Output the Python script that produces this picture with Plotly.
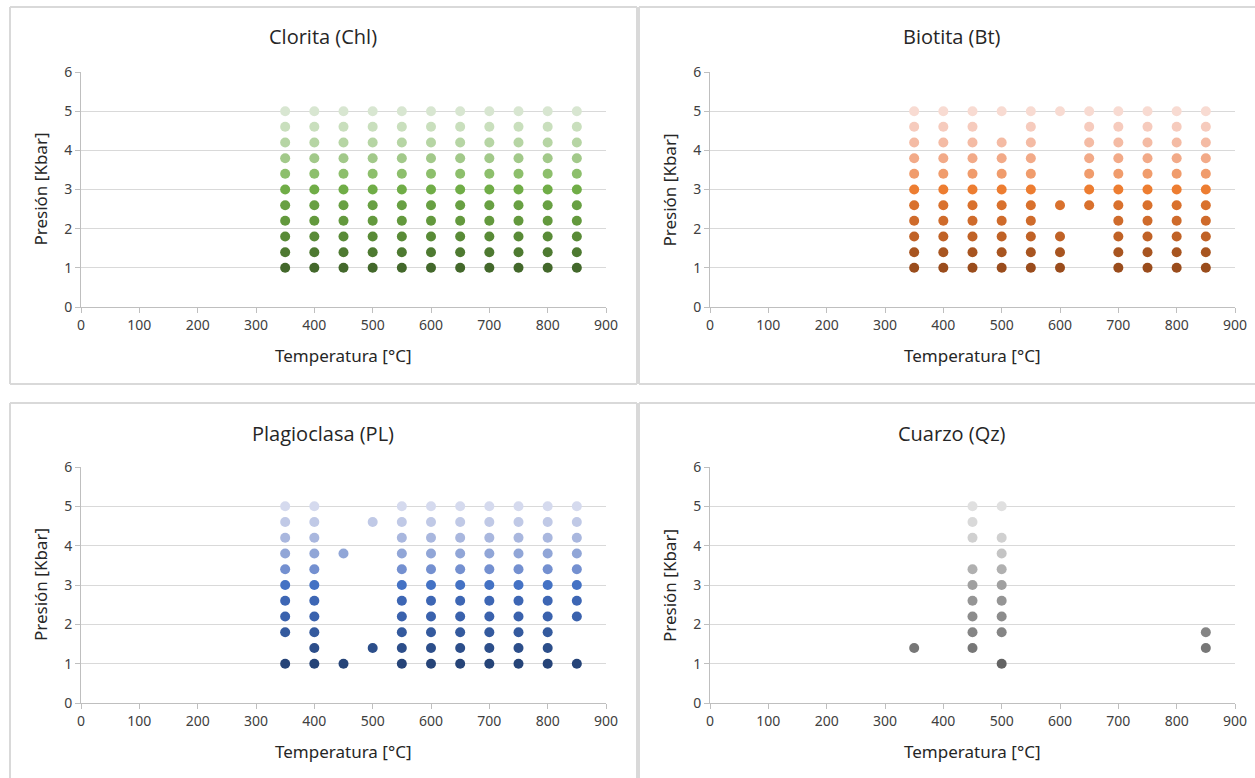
import plotly.graph_objects as go

# ---------------- data ----------------
presiones = [1.0, 1.4, 1.8, 2.2, 2.6, 3.0, 3.4, 3.8, 4.2, 4.6, 5.0]
todas_T = [350, 400, 450, 500, 550, 600, 650, 700, 750, 800, 850]

# temperatures present at each pressure level (same order as presiones)
clorita_T = [todas_T for _ in presiones]

biotita_T = [
    [350, 400, 450, 500, 550, 600, 700, 750, 800, 850],        # 1.0
    [350, 400, 450, 500, 550, 600, 700, 750, 800, 850],        # 1.4
    [350, 400, 450, 500, 550, 600, 700, 750, 800, 850],        # 1.8
    [350, 400, 450, 500, 550, 700, 750, 800, 850],             # 2.2
    [350, 400, 450, 500, 550, 600, 650, 700, 750, 800, 850],   # 2.6
    [350, 400, 450, 500, 550, 650, 700, 750, 800, 850],        # 3.0
    [350, 400, 450, 500, 550, 650, 700, 750, 800, 850],        # 3.4
    [350, 400, 450, 500, 550, 650, 700, 750, 800, 850],        # 3.8
    [350, 400, 450, 500, 550, 650, 700, 750, 800, 850],        # 4.2
    [350, 400, 450, 550, 650, 700, 750, 800, 850],             # 4.6
    [350, 400, 450, 500, 550, 600, 650, 700, 750, 800, 850],   # 5.0
]

plagioclasa_T = [
    [350, 400, 450, 550, 600, 650, 700, 750, 800, 850],        # 1.0
    [400, 500, 550, 600, 650, 700, 750, 800],                  # 1.4
    [350, 400, 550, 600, 650, 700, 750, 800],                  # 1.8
    [350, 400, 550, 600, 650, 700, 750, 800, 850],             # 2.2
    [350, 400, 550, 600, 650, 700, 750, 800, 850],             # 2.6
    [350, 400, 550, 600, 650, 700, 750, 800, 850],             # 3.0
    [350, 400, 550, 600, 650, 700, 750, 800, 850],             # 3.4
    [350, 400, 450, 550, 600, 650, 700, 750, 800, 850],        # 3.8
    [350, 400, 550, 600, 650, 700, 750, 800, 850],             # 4.2
    [350, 400, 500, 550, 600, 650, 700, 750, 800, 850],        # 4.6
    [350, 400, 550, 600, 650, 700, 750, 800, 850],             # 5.0
]

cuarzo_T = [
    [500],              # 1.0
    [350, 450, 850],    # 1.4
    [450, 500, 850],    # 1.8
    [450, 500],         # 2.2
    [450, 500],         # 2.6
    [450, 500],         # 3.0
    [450, 500],         # 3.4
    [500],              # 3.8
    [450, 500],         # 4.2
    [450],              # 4.6
    [450, 500],         # 5.0
]

verdes = ["#43682b", "#4e7a31", "#598b37", "#63993d", "#68a043", "#70ad47",
          "#8dbf6c", "#a2c98a", "#b6d5a4", "#c9dfbd", "#d8e6d1"]
naranjas = ["#9a4c1c", "#a85520", "#c06226", "#cf6b2b", "#d9712d", "#ed7d31",
            "#f09c6c", "#f2aa88", "#f4bba4", "#f6cbbd", "#f8dbd2"]
azules = ["#264478", "#2c4e8a", "#345a9e", "#3a62ad", "#3d66b4", "#4472c4",
          "#7490d0", "#91a6d7", "#a9b7de", "#c0c9e6", "#d5daee"]
grises = ["#636363", "#777777", "#858585", "#8c8c8c", "#959595", "#a0a0a0",
          "#b0b0b0", "#c4c4c4", "#d0d0d0", "#d9d9d9", "#e0e0e0"]

titulos = ["Clorita (Chl)", "Biotita (Bt)", "Plagioclasa (PL)", "Cuarzo (Qz)"]
x_ticks = [0, 100, 200, 300, 400, 500, 600, 700, 800, 900]
y_ticks = [0, 1, 2, 3, 4, 5, 6]

# ---------------- layout geometry ----------------
W, H = 1255, 778
def px(x):
    return x / W
def py(y):
    return 1 - y / H

# box = (left, top, right, bottom) in px; sides = which border lines are visible
paneles = [
    dict(data=clorita_T, colors=verdes, xd=(81, 606), yd=(72, 307),
         box=(10, 7, 637, 384), sides="tlrb", title_x=323),
    dict(data=biotita_T, colors=naranjas, xd=(710, 1235), yd=(72, 307),
         box=(639, 7, 1255, 384), sides="tlb", title_x=952),
    dict(data=plagioclasa_T, colors=azules, xd=(81, 606), yd=(467, 703),
         box=(10, 403, 637, 778), sides="tlr", title_x=323),
    dict(data=cuarzo_T, colors=grises, xd=(710, 1235), yd=(467, 703),
         box=(639, 403, 1255, 778), sides="tl", title_x=952),
]

fig = go.Figure()
shapes = []
annotations = []
layout_axes = {}

def add_line(x0, y0, x1, y1):
    shapes.append(dict(type="line", xref="paper", yref="paper",
                       x0=px(x0), x1=px(x1), y0=py(y0), y1=py(y1),
                       line=dict(color="#d9d9d9", width=2), layer="below"))

for i, pan in enumerate(paneles):
    n = i + 1
    xa = "x" if n == 1 else f"x{n}"
    ya = "y" if n == 1 else f"y{n}"
    for lvl, p in enumerate(presiones):
        ts = pan["data"][lvl]
        if not ts:
            continue
        fig.add_trace(go.Scatter(
            x=ts, y=[p] * len(ts), mode="markers",
            marker=dict(size=10, color=pan["colors"][lvl], line=dict(width=0)),
            xaxis=xa, yaxis=ya, showlegend=False, hoverinfo="x+y"))
    xk = "xaxis" if n == 1 else f"xaxis{n}"
    yk = "yaxis" if n == 1 else f"yaxis{n}"
    layout_axes[xk] = dict(
        domain=[px(pan["xd"][0]), px(pan["xd"][1])], anchor=ya, automargin=False,
        range=[0, 900], tickvals=x_ticks, ticktext=[str(v) for v in x_ticks],
        showgrid=False, zeroline=False, showline=True, linecolor="#bfbfbf", linewidth=1,
        ticks="outside", ticklen=5, tickcolor="#bfbfbf",
        tickfont=dict(family="Noto Sans", size=14, color="#404040"), fixedrange=True)
    layout_axes[yk] = dict(
        domain=[py(pan["yd"][1]), py(pan["yd"][0])], anchor=xa, automargin=False,
        range=[0, 6], tickvals=y_ticks, ticktext=[str(v) for v in y_ticks],
        showgrid=True, gridcolor="#d9d9d9", gridwidth=1, zeroline=False,
        showline=True, linecolor="#bfbfbf", linewidth=1,
        ticks="outside", ticklen=5, tickcolor="#bfbfbf",
        tickfont=dict(family="Noto Sans", size=14, color="#404040"), fixedrange=True)
    bx0, by0, bx1, by1 = pan["box"]
    s = pan["sides"]
    if "t" in s:
        add_line(bx0, by0, bx1, by0)
    if "b" in s:
        add_line(bx0, by1, bx1, by1)
    if "l" in s:
        add_line(bx0, by0, bx0, by1)
    if "r" in s:
        add_line(bx1, by0, bx1, by1)
    annotations.append(dict(text=titulos[i], xref="paper", yref="paper",
                            x=px(pan["title_x"]), y=py(by0 + 30),
                            showarrow=False, xanchor="center", yanchor="middle",
                            font=dict(family="Open Sans", size=20, color="#262626")))
    axc = (pan["xd"][0] + pan["xd"][1]) / 2
    annotations.append(dict(text="Temperatura [°C]", xref="paper", yref="paper",
                            x=px(axc), y=py(pan["yd"][1] + 48),
                            showarrow=False, xanchor="center", yanchor="middle",
                            font=dict(family="Noto Sans", size=17, color="#262626")))
    ayc = (pan["yd"][0] + pan["yd"][1]) / 2
    annotations.append(dict(text="Presión [Kbar]", xref="paper", yref="paper",
                            x=px(pan["xd"][0] - 41), y=py(ayc), textangle=-90,
                            showarrow=False, xanchor="center", yanchor="middle",
                            font=dict(family="Noto Sans", size=17, color="#262626")))

fig.update_layout(
    width=W, height=H, margin=dict(l=0, r=0, t=0, b=0, pad=0), autosize=False,
    paper_bgcolor="white", plot_bgcolor="white",
    shapes=shapes, annotations=annotations, showlegend=False,
    **layout_axes)

fig.write_html(
    "out.html",
    config={"displayModeBar": False},
    post_script="document.body.style.margin='0';document.body.style.overflow='hidden';")
